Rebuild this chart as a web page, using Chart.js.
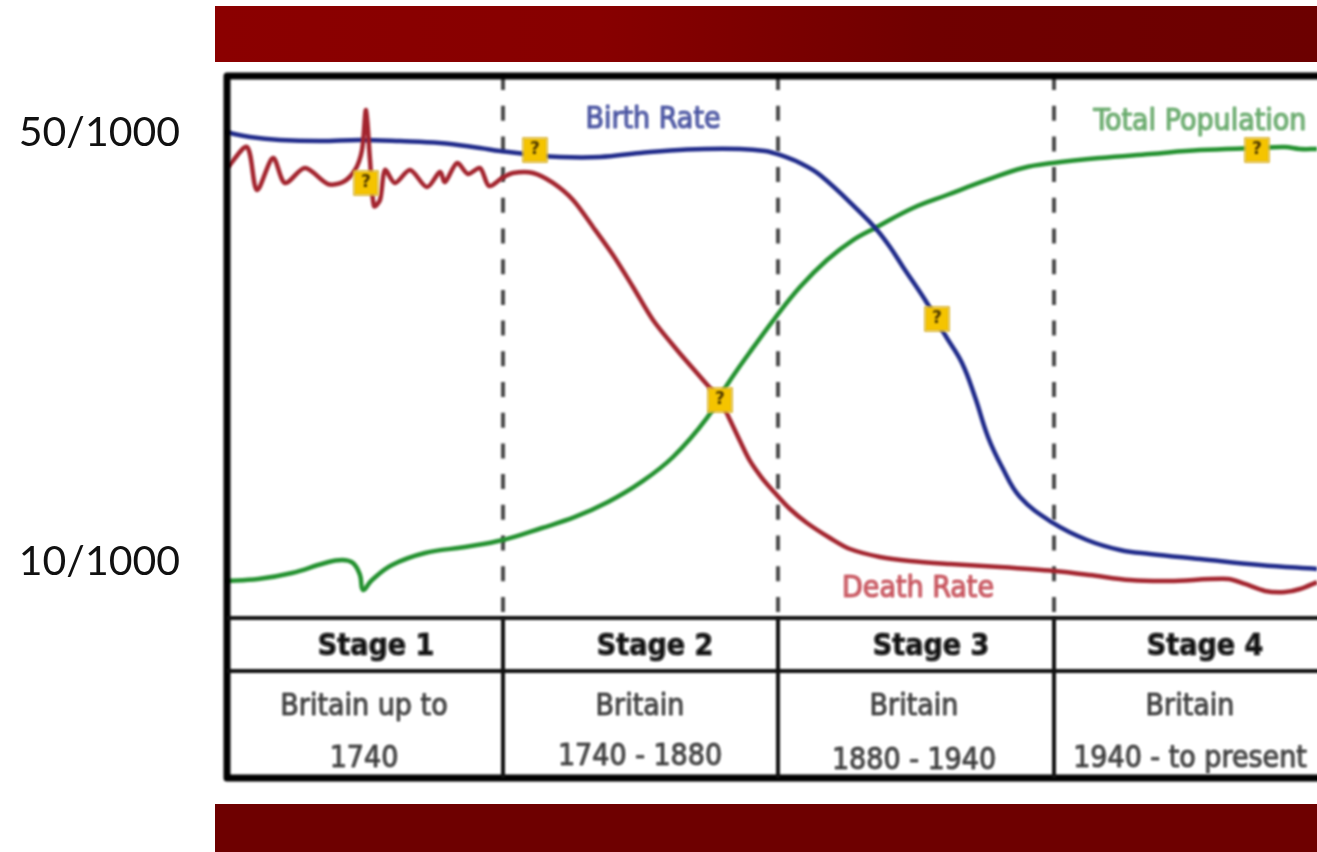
<!DOCTYPE html>
<html><head><meta charset="utf-8">
<style>html,body{margin:0;padding:0;background:#fff;overflow:hidden}canvas{display:block}</style>
<script src="https://cdn.jsdelivr.net/npm/chart.js@4"></script>
</head><body>
<div style="width:1317px;height:852px"><canvas id="c" width="1317" height="852"></canvas></div>
<script>
// --- Data (x = time position along the axis, y = rate per 1000) ---
const birthX = [0,25,55,95,135,175,215,255,275,305,335,375,415,462,515,540,555,575,595,635,652,665,678,702,720,737,750,763,777,795,828,862,895,925,975,1035,1092];
const birthRate = [50.09,49.63,49.35,49.25,49.35,49.25,49.07,48.60,48.32,48.00,47.76,47.76,48.14,48.46,48.51,48.32,47.95,47.20,46.08,42.63,40.96,39.37,37.51,34.15,31.17,28.56,25.38,21.66,18.86,16.06,13.64,12.05,11.12,10.75,10.28,9.72,9.35];
const deathX = [3,22,32,48,60,80,103,118,130,137,141,145,149,155,160,170,185,202,215,220,232,243,255,264,277,288,308,328,348,368,388,408,428,452,478,495,505,515,525,537,550,565,582,605,625,655,685,725,775,829,865,905,945,1003,1020,1040,1060,1075,1092];
const deathRate = [46.83,48.69,44.69,47.67,45.34,46.74,45.24,45.43,46.55,48.41,52.14,47.48,43.19,43.75,46.55,45.34,46.55,44.96,46.36,45.43,47.20,46.18,46.74,45.06,45.80,46.27,46.27,45.34,43.75,41.24,38.62,35.64,32.56,29.77,26.97,25.10,23.24,21.28,19.42,17.83,16.43,14.94,13.64,12.24,11.21,10.47,10.09,9.81,9.53,9.16,8.79,8.32,8.23,8.42,7.95,7.30,7.20,7.48,8.13];
const popX = [0,33,67,100,117,128,135,138,147,167,200,240,278,317,350,383,415,448,482,502,525,550,575,602,628,652,688,722,762,798,828,875,925,975,1032,1060,1075,1092];
const popValue = [8.23,8.41,8.97,9.91,10.19,9.91,8.79,7.39,8.32,9.72,10.84,11.40,12.05,13.17,14.20,15.59,17.37,19.79,23.43,26.50,29.58,32.75,35.64,38.16,40.02,41.24,43.01,44.22,45.62,46.74,47.20,47.67,48.04,48.41,48.60,48.69,48.51,48.51];
const markerX = [141,310,712,495,1032];
const markerY = [45.34,48.41,32.66,25.10,48.41];
const stageBoundaries = [278,553,829];
const stageNames = ["Stage 1","Stage 2","Stage 3","Stage 4"];
const stageLine1 = ["Britain up to","Britain","Britain","Britain"];
const stageLine2 = ["1740","1740 - 1880","1880 - 1940","1940 - to present"];
const yTicks = [10,50];
const seriesNames = ["Birth Rate","Death Rate","Total Population"];

const zip = (xs, ys) => xs.map((x, i) => ({x, y: ys[i]}));
const FONT = '"DejaVu Sans"';
const SOFT = 'blur(0.8px)';
function heavy(c, text, x, y, w) {
  c.strokeStyle = c.fillStyle; c.lineWidth = w;
  c.strokeText(text, x, y); c.fillText(text, x, y);
}
const overlay = {
  id: 'overlay',
  beforeDraw(chart) {
    const c = chart.ctx;
    c.save();
    c.fillStyle = '#fff'; c.fillRect(0, 0, 1317, 852);
    const g = c.createLinearGradient(215, 0, 1317, 0);
    g.addColorStop(0, '#8b0000'); g.addColorStop(0.35, '#870000'); g.addColorStop(0.65, '#700000'); g.addColorStop(1, '#6c0000');
    c.fillStyle = g; c.fillRect(215, 6, 1102, 56);
    c.fillStyle = '#6e0000'; c.fillRect(215, 804, 1102, 48);
    c.restore();
  },
  beforeDatasetsDraw(chart) {
    const c = chart.ctx, xs = chart.scales.x, a = chart.chartArea;
    c.filter = SOFT;
    c.save();
    c.strokeStyle = '#4a4a4a'; c.lineWidth = 4; c.setLineDash([15, 15.7]);
    stageBoundaries.forEach(v => {
      const p = xs.getPixelForValue(v);
      c.beginPath(); c.moveTo(p, a.top); c.lineTo(p, a.bottom); c.stroke();
    });
    c.restore();
  },
  afterDatasetsDraw(chart) {
    const c = chart.ctx, xs = chart.scales.x, ys = chart.scales.y, a = chart.chartArea;
    c.save();
    c.textAlign = 'center'; c.textBaseline = 'middle';
    // question marks in the yellow flags
    c.fillStyle = '#4a3500'; c.font = 'bold 17px ' + FONT;
    markerX.forEach((v, i) => c.fillText('?', xs.getPixelForValue(v), ys.getPixelForValue(markerY[i])));
    // curve labels
    c.font = 'condensed 30px ' + FONT;
    c.fillStyle = '#3f4a9c'; heavy(c, seriesNames[0], 653, 120, 0.7);
    c.fillStyle = '#c44a54'; heavy(c, seriesNames[1], 918, 589, 0.7);
    c.fillStyle = '#5fa563'; heavy(c, seriesNames[2], 1200, 122, 0.7);
    // frame and table
    c.strokeStyle = '#000'; c.lineWidth = 7;
    c.lineJoin = 'round';
    c.beginPath();
    c.moveTo(1320, 76); c.lineTo(227, 76); c.lineTo(227, 778); c.lineTo(1320, 778); c.stroke();
    c.strokeStyle = '#111'; c.lineWidth = 4;
    [a.bottom, 671].forEach(y => { c.beginPath(); c.moveTo(227, y); c.lineTo(1320, y); c.stroke(); });
    stageBoundaries.forEach(v => {
      const p = xs.getPixelForValue(v);
      c.beginPath(); c.moveTo(p, a.bottom); c.lineTo(p, 778); c.stroke();
    });
    // table text
    const nameCx = [376, 655, 931, 1205], subCx = [364, 640, 914, 1190], line2Y = [759, 757, 761, 759];
    c.font = 'bold condensed 30px ' + FONT; c.fillStyle = '#111';
    stageNames.forEach((t, i) => heavy(c, t, nameCx[i], 647, 0.6));
    c.font = 'condensed 30px ' + FONT; c.fillStyle = '#333';
    stageLine1.forEach((t, i) => heavy(c, t, subCx[i], 707, 0.6));
    stageLine2.forEach((t, i) => heavy(c, t, subCx[i], line2Y[i], 0.6));
    c.restore();
    c.filter = 'none';
  }
};
new Chart(document.getElementById('c'), {
  type: 'line',
  data: { datasets: [
    { label: 'Markers', data: zip(markerX, markerY), showLine: false, pointStyle: 'rect', pointRadius: 17, backgroundColor: '#f5c400', borderColor: '#d9b84a', borderWidth: 1.5 },
    { label: seriesNames[1], data: zip(deathX, deathRate), borderColor: '#a3242e', borderWidth: 4.5, pointRadius: 0, tension: 0.3 },
    { label: seriesNames[0], data: zip(birthX, birthRate), borderColor: '#1f2a8a', borderWidth: 4.5, pointRadius: 0, tension: 0.4 },
    { label: seriesNames[2], data: zip(popX, popValue), borderColor: '#23912f', borderWidth: 4.5, pointRadius: 0, tension: 0.4 }
  ]},
  options: {
    responsive: false, animation: false, parsing: true,
    layout: { autoPadding: false, padding: { top: 75, bottom: 234, left: 0, right: 0 } },
    plugins: { legend: { display: false }, tooltip: { enabled: false }, title: { display: false } },
    scales: {
      x: { type: 'linear', min: 0, max: 1092, display: false },
      y: { type: 'linear', min: 4.778, max: 55.408,
        grid: { display: false }, border: { display: false },
        afterBuildTicks(s) { s.ticks = yTicks.map(value => ({value})); },
        afterFit(s) { s.width = 225; },
        ticks: { padding: 37, color: '#111', font: { family: 'Lato', size: 41 }, autoSkip: false, maxRotation: 0,
                 callback: v => v + '/1000' } }
    }
  },
  plugins: [overlay]
});
</script>
</body></html>
